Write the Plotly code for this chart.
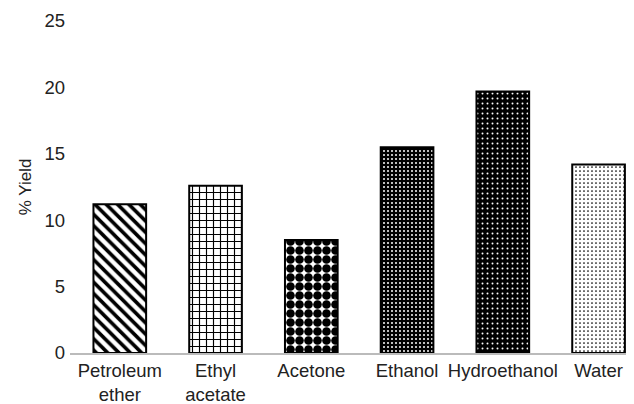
import plotly.graph_objects as go

categories = ["Petroleum<br>ether", "Ethyl<br>acetate", "Acetone", "Ethanol", "Hydroethanol", "Water"]
yields = [11.2, 12.6, 8.5, 15.5, 19.7, 14.2]
y_ticks = [0, 5, 10, 15, 20, 25]

pattern_shapes = ["\\", "+", ".", ".", ".", "."]
pattern_bg = ["white", "white", "white", "black", "black", "white"]
pattern_fg = ["black", "black", "black", "white", "white", "black"]
pattern_size = [8, 7, 9, 4, 5, 4]
pattern_solidity = [0.45, 0.3, 0.72, 0.2, 0.12, 0.15]

fig = go.Figure()
for i, (cat, val) in enumerate(zip(categories, yields)):
    fig.add_trace(go.Bar(
        x=[i],
        y=[val],
        width=0.55,
        name=cat,
        marker=dict(
            color=pattern_bg[i],
            line=dict(color="black", width=2),
            pattern=dict(
                shape=pattern_shapes[i],
                fgcolor=pattern_fg[i],
                bgcolor=pattern_bg[i],
                size=pattern_size[i],
                solidity=pattern_solidity[i],
                fgopacity=1,
            ),
        ),
    ))

# page body has an 8px margin, so the figure is sized to fit the 634x404 window
fig.update_layout(
    width=626, height=396,
    margin=dict(l=62, r=0, t=13, b=51),
    plot_bgcolor="white", paper_bgcolor="white",
    font=dict(family="Liberation Sans, Arial, sans-serif", size=18.5, color="#222222"),
    showlegend=False,
    barmode="overlay",
)
fig.update_xaxes(
    tickmode="array", tickvals=list(range(len(categories))), ticktext=categories,
    range=[-0.52, 5.37], showgrid=False, zeroline=False,
    showline=True, linecolor="#bbbbbb", linewidth=2, ticks="",
    automargin=False,
)
fig.update_yaxes(
    range=[0, 25], tickvals=y_ticks, showgrid=False, zeroline=False,
    showline=False, ticks="", ticklabelstandoff=4,
    title=dict(text="% Yield", font=dict(size=17), standoff=8),
    automargin=False,
)

fig.write_html("out.html")
